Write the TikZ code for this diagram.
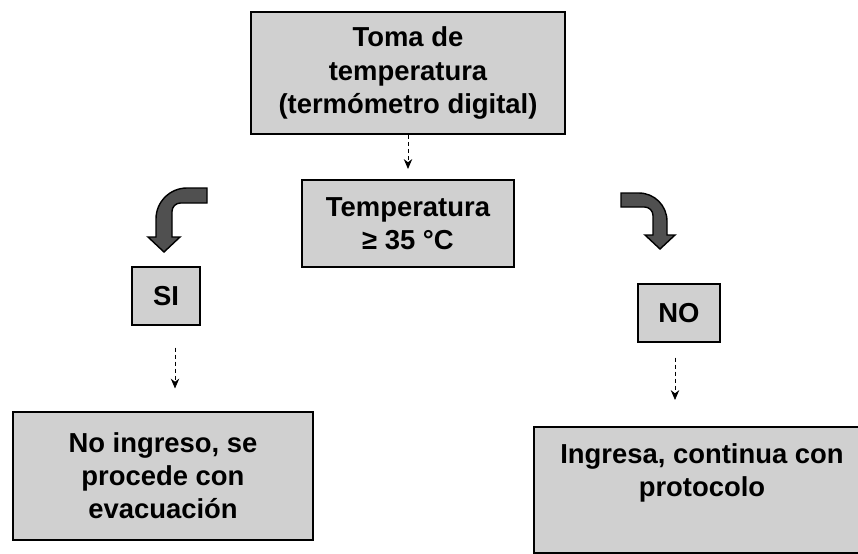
\documentclass[tikz,border=0pt]{standalone}
\usepackage{fontspec}
\setmainfont{Liberation Sans}
\usetikzlibrary{arrows.meta, positioning}
\definecolor{boxgray}{RGB}{208, 208, 208}
\definecolor{bentgray}{RGB}{80, 80, 80}

\begin{document}
\begin{tikzpicture}[
    x=0.025cm, y=-0.025cm,
    box/.style={rectangle, draw=black, line width=1.3pt, fill=boxgray, align=center, inner sep=0pt, font=\fontsize{19.5}{23.5}\selectfont\bfseries},
    dasharrow/.style={densely dashed, line width=0.6pt, -{Stealth[length=7pt, width=6pt]}},
    bent/.style={draw=black, line width=1pt, fill=bentgray}
]

\useasboundingbox (0,0) rectangle (858,554);

% Measurement
\node[box, minimum width=7.83cm, minimum height=3.05cm] (toma) at (408,73) {Toma de\\temperatura\\(termómetro digital)};
\node[box, minimum width=5.3cm, minimum height=2.18cm, below=1.1cm of toma] (temp) {Temperatura\\≥ 35 °C};

% Answers
\node[box, minimum width=1.7cm, minimum height=1.43cm] (si) at (166,296) {SI};
\node[box, minimum width=2.05cm, minimum height=1.43cm] (no) at (679,313) {NO};

% Outcomes
\node[box, minimum width=7.5cm, minimum height=3.18cm] (evac) at (163,476) {No ingreso, se\\procede con\\evacuación};
\node[box, minimum width=8.38cm, anchor=north, text height=1.75cm, text depth=1.4cm] (prot) at (702,426) {Ingresa, continua con\\protocolo};

% Arrows
\draw[dasharrow, shorten >=0.25cm] (toma) -- (temp);
\draw[dasharrow, shorten <=0.55cm, shorten >=0.575cm] ([xshift=0.225cm]si.south) -- ([xshift=0.225cm]si.south |- evac.north);
\draw[dasharrow, shorten <=0.375cm, shorten >=0.65cm] ([xshift=-0.1cm]no.south) -- ([xshift=-0.1cm]no.south |- prot.north);

% Bent arrows
\filldraw[bent] (207,188) [rounded corners=22] -- (156,188) [sharp corners] -- (156,237) -- (148,237) -- (164,252) -- (180,237) -- (172,237) [rounded corners=6] -- (172,203) [sharp corners] -- (207,203) -- cycle;
\filldraw[bent] (621,193) [rounded corners=20] -- (667,193) [sharp corners] -- (667,235) -- (675,235) -- (660,249) -- (645,235) -- (653,235) [rounded corners=6] -- (653,207) [sharp corners] -- (621,207) -- cycle;

\end{tikzpicture}
\end{document}
